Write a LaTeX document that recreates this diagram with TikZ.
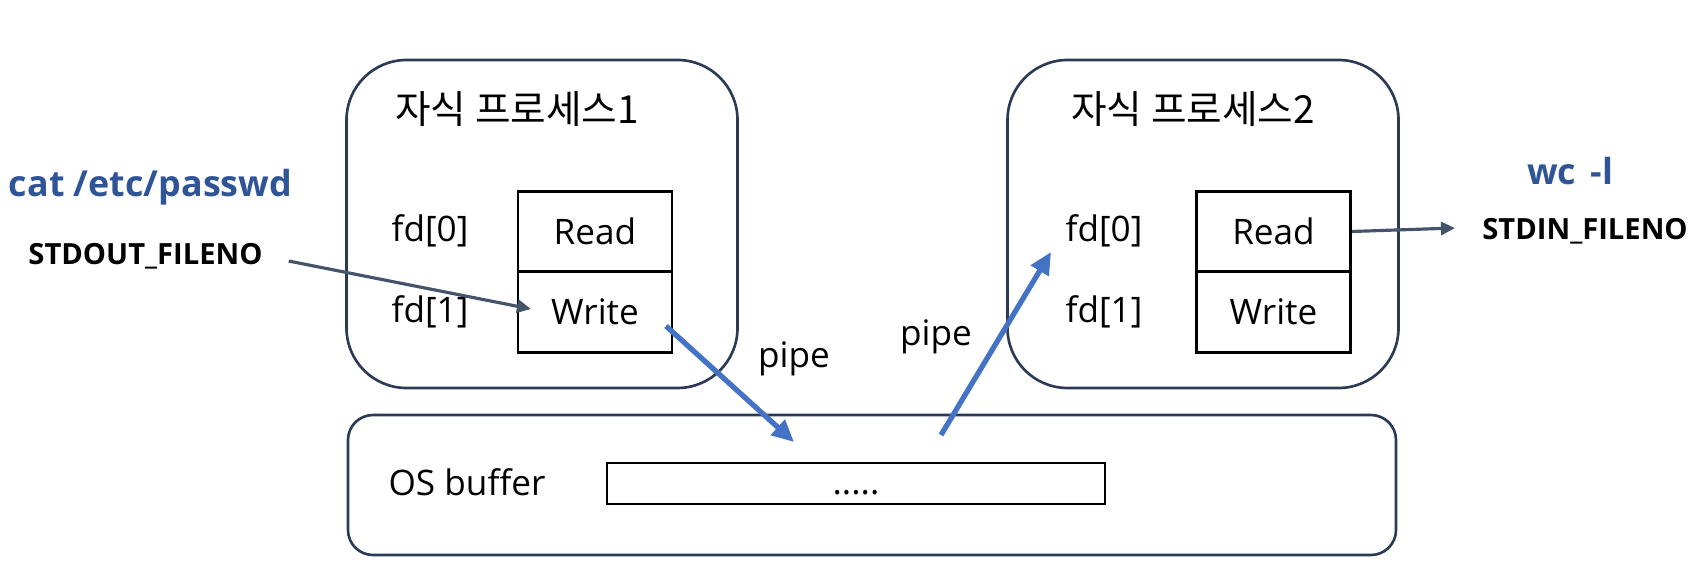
\documentclass[tikz,border=0pt]{standalone}
\usepackage{fontspec}
\setmainfont{Open Sans}
\newfontfamily\krfont{Noto Sans CJK KR}
\usetikzlibrary{arrows.meta}
\definecolor{boxline}{HTML}{2B3A55}
\definecolor{cmdblue}{HTML}{2F5597}
\definecolor{pipeblue}{HTML}{4472C4}
\definecolor{fdgray}{HTML}{44546A}
\tikzset{
  proc/.style={draw=boxline, line width=0.75pt, rounded corners=0.6cm, minimum width=3.91cm, minimum height=3.28cm, inner sep=0pt},
  bufbox/.style={draw=boxline, line width=0.75pt, rounded corners=0.25cm, minimum width=10.48cm, minimum height=1.40cm, inner sep=0pt},
  cell/.style={draw=black, line width=0.8pt, minimum width=1.54cm, minimum height=0.805cm, inner sep=0pt, font=\fontsize{10}{12}\selectfont},
  lbl/.style={inner sep=0pt, font=\fontsize{10}{12}\selectfont},
  procname/.style={inner sep=0pt, font=\krfont\fontsize{11}{13}\selectfont},
  cmd/.style={inner sep=0pt, text=cmdblue, font=\bfseries\fontsize{10.2}{12}\selectfont},
  fileno/.style={inner sep=0pt, font=\bfseries\fontsize{8.3}{10}\selectfont},
  fdarrow/.style={draw=fdgray, line width=0.9pt, -{Triangle[length=0.14cm,width=0.13cm]}},
  pipearrow/.style={draw=pipeblue, line width=1.5pt, -{Triangle[length=0.22cm,width=0.2cm]}},
}
\begin{document}
\begin{tikzpicture}
    \path[use as bounding box, fill=white] (0,0) rectangle (17.06,5.80);
    \node[proc] (proc1) at (5.42,3.56) {};
    \node[proc] (proc2) at (12.03,3.56) {};
    \node[bufbox] (os) at (8.72,0.95) {};
    \node[procname] (name1) at (5.17,4.71) {자식 프로세스1};
    \node[procname] (name2) at (11.93,4.71) {자식 프로세스2};
    \node[lbl] (fd0a) at (4.30,3.49) {fd[0]};
    \node[lbl] (fd1a) at (4.30,2.68) {fd[1]};
    \node[lbl] (fd0b) at (11.04,3.49) {fd[0]};
    \node[lbl] (fd1b) at (11.04,2.68) {fd[1]};
    \node[cell] (read1) at (5.95,3.485) {Read};
    \node[cell] (write1) at (5.95,2.68) {Write};
    \node[cell] (read2) at (12.735,3.485) {Read};
    \node[cell] (write2) at (12.735,2.68) {Write};
    \node[lbl] (oslbl) at (4.67,0.98) {OS buffer};
    \node[draw=black, line width=0.8pt, minimum width=4.98cm, minimum height=0.41cm, inner sep=0pt,
          text height=0.75em, text depth=0.15em, font=\fontsize{10}{12}\selectfont] (buf) at (8.56,0.965) {.....};
    \node[cmd] (cat) at (1.505,3.93) {cat /etc/passwd};
    \node[fileno] (stdout) at (1.455,3.24) {STDOUT\_FILENO};
    \node[cmd] (wc) at (15.70,4.09) {wc\hspace{0.4em}-l};
    \node[fileno] (stdin) at (15.85,3.49) {STDIN\_FILENO};
    \node[lbl] (pipe1) at (7.94,2.21) {pipe};
    \node[lbl] (pipe2) at (9.36,2.43) {pipe};
    \coordinate (wr) at (5.31,2.71);
    \coordinate (stdinend) at (14.55,3.52);
    \coordinate (p1s) at (6.66,2.54);
    \coordinate (p1e) at (7.94,1.38);
    \coordinate (p2s) at (9.41,1.45);
    \coordinate (p2e) at (10.51,3.28);
    \draw[fdarrow, shorten <=0.26cm] (stdout.east) -- (wr);
    \draw[fdarrow] (read2.east) -- (stdinend);
    \draw[pipearrow] (p1s) -- (p1e);
    \draw[pipearrow] (p2s) -- (p2e);
\end{tikzpicture}
\end{document}
